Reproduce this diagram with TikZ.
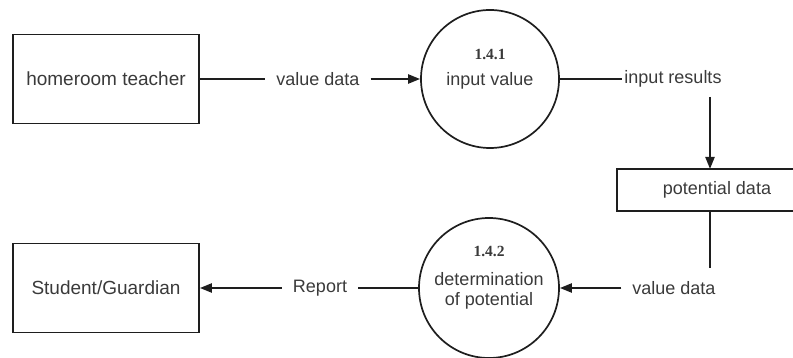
\documentclass[tikz,border=0pt]{standalone}
\usepackage{fontspec}
\setmainfont{Liberation Sans}
\newfontfamily\numfont{Liberation Serif}
\usetikzlibrary{arrows.meta}
\definecolor{ink}{HTML}{1E1E1E}
\definecolor{txt}{HTML}{3A3A3A}
\tikzset{
  entity/.style={draw=ink, line width=1.7pt, rectangle, minimum width=186pt, minimum height=89pt,
    text=txt, font=\fontsize{19}{21}\selectfont},
  proc/.style={draw=ink, line width=1.7pt, circle, minimum size=138pt, inner sep=0pt},
  proctext/.style={text=txt, font=\fontsize{18}{21}\selectfont, align=center},
  procnum/.style={text=txt, font=\numfont\fontsize{15.5}{17}\selectfont\bfseries},
  flowlabel/.style={text=txt, font=\fontsize{18}{20}\selectfont, inner xsep=11pt, inner ysep=2pt},
  flow/.style={draw=ink, line width=2.2pt},
  flowarrow/.style={flow, -{Triangle[length=12pt,width=9pt]}},
}
\begin{document}
\begin{tikzpicture}[x=1pt,y=-1pt]
\useasboundingbox (0,0) rectangle (793,358);

% external entities
\node[entity] (teacher) at (106,79) {homeroom teacher};
\node[entity] (student) at (106,288) {Student/Guardian};

% processes
\node[proc] (p1) at (490,79) {};
\node[procnum] (n1) at (490,54) {1.4.1};
\node[proctext] (t1) at (490,81) {input value};

\node[proc, minimum size=140pt] (p2) at (489,288) {};
\node[procnum] (n2) at (489,251) {1.4.2};
\node[proctext] (t2) at (489,291) {determination\\[-1pt]of potential};

% data store (open on the right)
\draw[ink, line width=1.7pt] (793,169) -| (617,211) -- (793,211);
\node[proctext] (store) at (717,190) {potential data};
\coordinate (storetop) at (710,169);
\coordinate (storebot) at (710,211);

% flow labels
\node[flowlabel] (vd1) at (318,79) {value data};
\node[flowlabel, inner xsep=2pt] (ir) at (673,79) {input results};
\node[flowlabel] (vd2) at (674,288) {value data};
\node[flowlabel] (rep) at (320,288) {Report};
\coordinate (irbot) at (710,97);
\coordinate (vdtop) at (710,268);

% flows
\draw[flow] (teacher.east) -- (vd1.west);
\draw[flowarrow] (vd1.east) -- (p1.west);
\draw[flow] (p1.east) -- (ir.west);
\draw[flowarrow] (irbot) -- (storetop);
\draw[flow] (storebot) -- (vdtop);
\draw[flowarrow] (vd2.west) -- (p2.east);
\draw[flow] (p2.west) -- (rep.east);
\draw[flowarrow] (rep.west) -- (student.east);
\end{tikzpicture}
\end{document}
